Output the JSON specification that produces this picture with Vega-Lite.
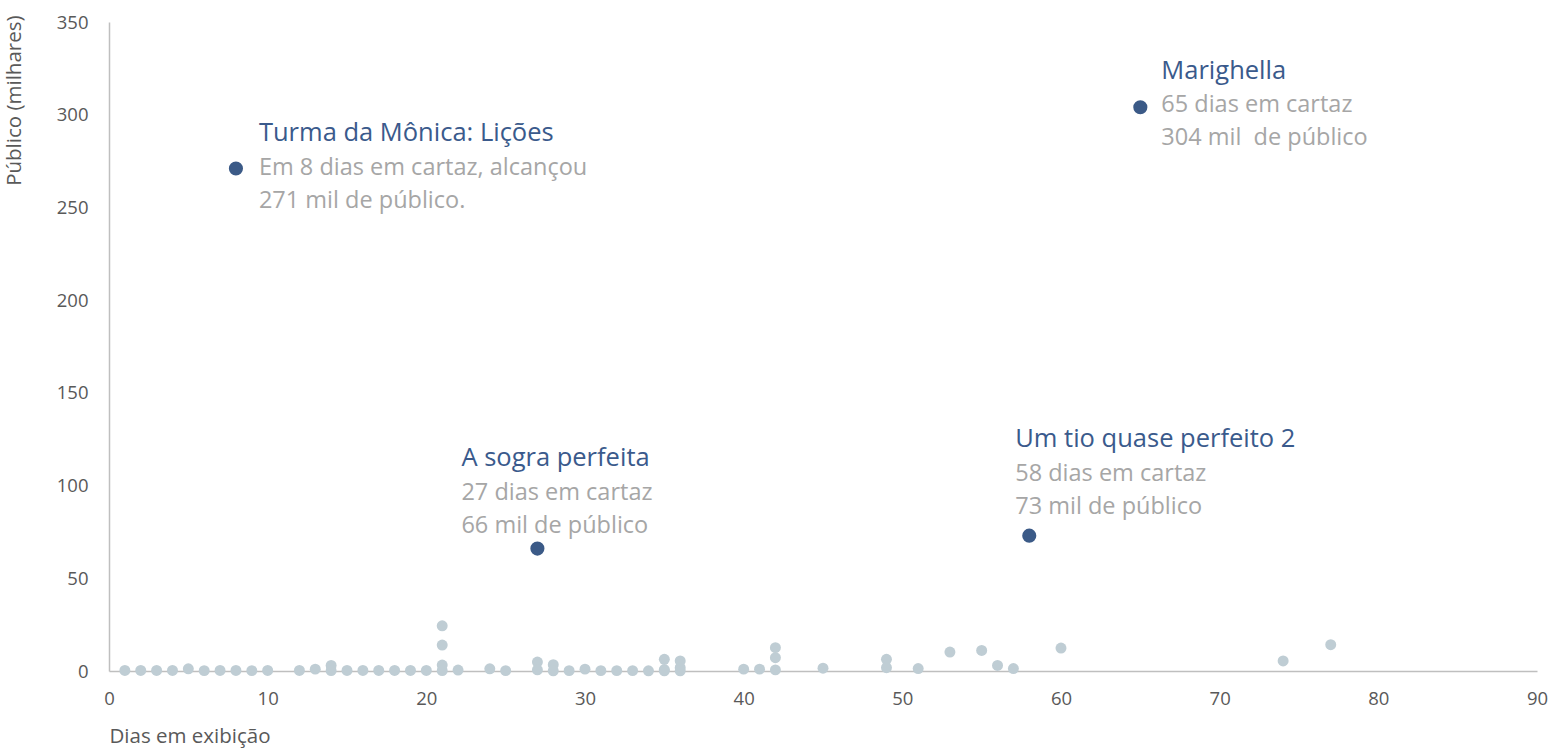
{
  "$schema": "https://vega.github.io/schema/vega-lite/v6.json",
  "autosize": "none",
  "width": 1428,
  "height": 649,
  "padding": {"left": 109, "top": 22, "right": 14, "bottom": 78},
  "background": "white",
  "config": {
    "view": {"stroke": null},
    "font": "Open Sans",
    "axis": {"labelFont": "Open Sans", "titleFont": "Open Sans"}
  },
  "datasets": {
    "films": [
      {"dias": 1, "publico": 0.3}, {"dias": 2, "publico": 0.3}, {"dias": 3, "publico": 0.3},
      {"dias": 4, "publico": 0.3}, {"dias": 5, "publico": 1.2}, {"dias": 6, "publico": 0.2},
      {"dias": 7, "publico": 0.3}, {"dias": 8, "publico": 0.3}, {"dias": 9, "publico": 0.2},
      {"dias": 10, "publico": 0.3}, {"dias": 12, "publico": 0.3}, {"dias": 13, "publico": 1.0},
      {"dias": 14, "publico": 3.0}, {"dias": 14, "publico": 0.2}, {"dias": 15, "publico": 0.3},
      {"dias": 16, "publico": 0.3}, {"dias": 17, "publico": 0.3}, {"dias": 18, "publico": 0.3},
      {"dias": 19, "publico": 0.3}, {"dias": 20, "publico": 0.3}, {"dias": 21, "publico": 24.4},
      {"dias": 21, "publico": 14.0}, {"dias": 21, "publico": 3.2}, {"dias": 21, "publico": 0.2},
      {"dias": 22, "publico": 0.5}, {"dias": 24, "publico": 1.2}, {"dias": 25, "publico": 0.2},
      {"dias": 27, "publico": 4.8}, {"dias": 27, "publico": 0.6}, {"dias": 28, "publico": 3.4},
      {"dias": 28, "publico": 0.1}, {"dias": 29, "publico": 0.2}, {"dias": 30, "publico": 1.0},
      {"dias": 31, "publico": 0.2}, {"dias": 32, "publico": 0.2}, {"dias": 33, "publico": 0.2},
      {"dias": 34, "publico": 0.1}, {"dias": 35, "publico": 6.3}, {"dias": 35, "publico": 0.8},
      {"dias": 35, "publico": 0.1}, {"dias": 36, "publico": 5.4}, {"dias": 36, "publico": 1.8},
      {"dias": 36, "publico": 0.1}, {"dias": 40, "publico": 1.0}, {"dias": 41, "publico": 1.0},
      {"dias": 42, "publico": 12.6}, {"dias": 42, "publico": 7.2}, {"dias": 42, "publico": 0.6},
      {"dias": 45, "publico": 1.5}, {"dias": 49, "publico": 6.3}, {"dias": 49, "publico": 1.8},
      {"dias": 51, "publico": 1.3}, {"dias": 53, "publico": 10.2}, {"dias": 55, "publico": 11.1},
      {"dias": 56, "publico": 3.0}, {"dias": 57, "publico": 1.3}, {"dias": 60, "publico": 12.4},
      {"dias": 74, "publico": 5.4}, {"dias": 77, "publico": 14.2}
    ],
    "destaques": [
      {"filme": "Turma da Mônica: Lições", "dias": 8, "publico": 271, "texto": ["Em 8 dias em cartaz, alcançou", "271 mil de público."]},
      {"filme": "Marighella", "dias": 65, "publico": 304, "texto": ["65 dias em cartaz", "304 mil \u00a0de público"]},
      {"filme": "A sogra perfeita", "dias": 27, "publico": 66, "texto": ["27 dias em cartaz", "66 mil de público"]},
      {"filme": "Um tio quase perfeito 2", "dias": 58, "publico": 73, "texto": ["58 dias em cartaz", "73 mil de público"]}
    ]
  },
  "encoding": {
    "x": {
      "field": "dias", "type": "quantitative",
      "scale": {"domain": [0, 90], "nice": false, "zero": true},
      "axis": {
        "title": "Dias em exibição", "values": [0,10,20,30,40,50,60,70,80,90],
        "grid": false, "ticks": false, "domainColor": "#BFBFBF", "domainWidth": 1.5,
        "labelFlush": false,
        "labelColor": "#595959", "labelFontSize": 18.5, "labelPadding": 18,
        "titleColor": "#595959", "titleFontSize": 20.5, "titleFontWeight": "normal",
        "titleX": 0, "titleY": 71, "titleAlign": "left", "titleBaseline": "alphabetic"
      }
    },
    "y": {
      "field": "publico", "type": "quantitative",
      "scale": {"domain": [0, 350], "nice": false},
      "axis": {
        "title": "Público (milhares)", "values": [0,50,100,150,200,250,300,350],
        "grid": false, "ticks": false, "domainColor": "#BFBFBF", "domainWidth": 1.5,
        "labelFlush": false,
        "labelColor": "#595959", "labelFontSize": 18.5, "labelPadding": 21,
        "titleColor": "#595959", "titleFontSize": 20.5, "titleFontWeight": "normal",
        "titleX": -95, "titleY": -7, "titleAlign": "right", "titleBaseline": "middle", "titleAngle": -90
      }
    }
  },
  "layer": [
    {
      "data": {"name": "films"},
      "mark": {"type": "circle", "size": 120, "color": "#BFCDD4", "opacity": 1}
    },
    {
      "data": {"name": "destaques"},
      "mark": {"type": "circle", "size": 200, "color": "#3B5A87", "opacity": 1}
    },
    {
      "data": {"name": "destaques"},
      "transform": [{"filter": "datum.dias == 8"}],
      "layer": [
        {"mark": {"type": "text", "align": "left", "baseline": "alphabetic", "dx": 23, "dy": -27, "fontSize": 25.5, "color": "#3A5A8C"}, "encoding": {"text": {"field": "filme"}}},
        {"mark": {"type": "text", "align": "left", "baseline": "alphabetic", "dx": 23, "dy": 7, "fontSize": 23.5, "lineHeight": 33, "color": "#A6A6A6"}, "encoding": {"text": {"field": "texto"}}}
      ]
    },
    {
      "data": {"name": "destaques"},
      "transform": [{"filter": "datum.dias == 65"}],
      "layer": [
        {"mark": {"type": "text", "align": "left", "baseline": "alphabetic", "dx": 21, "dy": -28, "fontSize": 25.5, "color": "#3A5A8C"}, "encoding": {"text": {"field": "filme"}}},
        {"mark": {"type": "text", "align": "left", "baseline": "alphabetic", "dx": 21, "dy": 5, "fontSize": 23.5, "lineHeight": 33, "color": "#A6A6A6"}, "encoding": {"text": {"field": "texto"}}}
      ]
    },
    {
      "data": {"name": "destaques"},
      "transform": [{"filter": "datum.dias == 27"}],
      "layer": [
        {"mark": {"type": "text", "align": "left", "baseline": "alphabetic", "dx": -76, "dy": -83, "fontSize": 25.5, "color": "#3A5A8C"}, "encoding": {"text": {"field": "filme"}}},
        {"mark": {"type": "text", "align": "left", "baseline": "alphabetic", "dx": -76, "dy": -49, "fontSize": 23.5, "lineHeight": 33, "color": "#A6A6A6"}, "encoding": {"text": {"field": "texto"}}}
      ]
    },
    {
      "data": {"name": "destaques"},
      "transform": [{"filter": "datum.dias == 58"}],
      "layer": [
        {"mark": {"type": "text", "align": "left", "baseline": "alphabetic", "dx": -14, "dy": -89, "fontSize": 25.5, "color": "#3A5A8C"}, "encoding": {"text": {"field": "filme"}}},
        {"mark": {"type": "text", "align": "left", "baseline": "alphabetic", "dx": -14, "dy": -55, "fontSize": 23.5, "lineHeight": 33, "color": "#A6A6A6"}, "encoding": {"text": {"field": "texto"}}}
      ]
    }
  ]
}
